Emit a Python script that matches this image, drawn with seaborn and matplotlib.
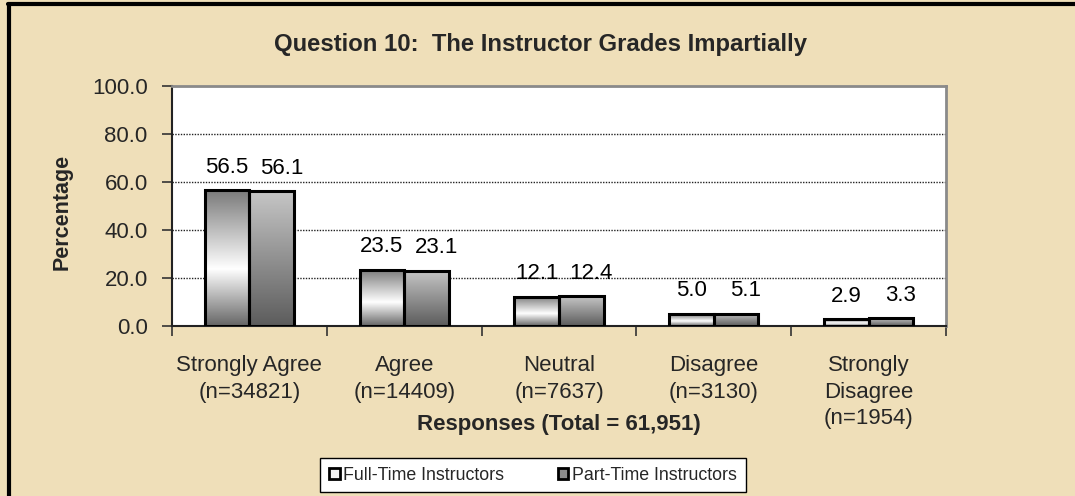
import numpy as np
import pandas as pd
import matplotlib
matplotlib.use("Agg")
import matplotlib.pyplot as plt
from matplotlib.colors import LinearSegmentedColormap
from matplotlib.patches import Patch
from matplotlib.lines import Line2D
import seaborn as sns

categories = ["Strongly Agree\n(n=34821)", "Agree\n(n=14409)", "Neutral\n(n=7637)",
              "Disagree\n(n=3130)", "Strongly\nDisagree\n(n=1954)"]
series = ["Full-Time Instructors", "Part-Time Instructors"]
full_time = [56.5, 23.5, 12.1, 5.0, 2.9]
part_time = [56.1, 23.1, 12.4, 5.1, 3.3]
yticks = [0, 20, 40, 60, 80, 100]

title = "Question 10:  The Instructor Grades Impartially"
xlabel = "Responses (Total = 61,951)"
ylabel = "Percentage"

df = pd.DataFrame({
    "cat": categories * 2,
    "pct": full_time + part_time,
    "group": [series[0]] * len(categories) + [series[1]] * len(categories),
})

sns.set_style("white")
plt.rcParams["font.family"] = ["Liberation Sans", "DejaVu Sans"]

BG = "#EFDFB9"
fig = plt.figure(figsize=(10.75, 4.96), dpi=100, facecolor=BG)
ax = fig.add_axes([172 / 1075, 1 - 326 / 496, (946 - 172) / 1075, (326 - 86) / 496])
ax.set_facecolor("white")

sns.barplot(data=df, x="cat", y="pct", hue="group", order=categories, hue_order=series,
            palette=["#dddddd", "#909090"], width=0.575, edgecolor="black", linewidth=2.2,
            ax=ax, legend=False, zorder=3)

cmap_ft = LinearSegmentedColormap.from_list("ft", [(0, "#666666"), (0.42, "#ffffff"), (1, "#7a7a7a")])
cmap_pt = LinearSegmentedColormap.from_list("pt", [(0, "#5c5c5c"), (1, "#c6c6c6")])
grad = np.linspace(0, 1, 256).reshape(-1, 1)
values = [full_time, part_time]
label_dx = [0, 7]
for cont, cmap, vals, dx in zip(ax.containers, [cmap_ft, cmap_pt], values, label_dx):
    for bar, v in zip(cont.patches, vals):
        x0, y0 = bar.get_x(), bar.get_y()
        w, h = bar.get_width(), bar.get_height()
        im = ax.imshow(grad, extent=[x0, x0 + w, y0, y0 + h], origin="lower", aspect="auto",
                       cmap=cmap, zorder=3, interpolation="bilinear")
        im.set_clip_path(bar)
        bar.set_facecolor("none")
        bar.set_zorder(4)
        ax.annotate(f"{v:.1f}", (x0 + w / 2, y0 + h), xytext=(dx, 9), textcoords="offset points",
                    ha="center", va="bottom", fontsize=16, color="black", zorder=5)

ax.set_xlim(-0.5, len(categories) - 0.5)
ax.set_ylim(0, 100)
ax.set_yticks(yticks)
ax.set_yticklabels([f"{t:.1f}" for t in yticks], fontsize=16)
ax.set_xticks(range(len(categories)))
ax.set_xticklabels(categories, fontsize=16, linespacing=1.35)
ax.set_xticks(np.arange(-0.5, len(categories)), minor=True)
ax.tick_params(axis="x", which="major", length=0, pad=21)
ax.tick_params(axis="x", which="minor", length=7, width=1.2, color="#333333", direction="out", bottom=True)
ax.tick_params(axis="y", which="major", length=7, width=1.2, color="#333333", direction="out", left=True, pad=10.5)

for t in yticks[1:-1]:
    ax.axhline(t, color="#222222", lw=1, ls=(0, (1, 1)), zorder=1)

for s in ["left", "bottom"]:
    ax.spines[s].set_color("#222222")
    ax.spines[s].set_linewidth(1.5)
for s in ["top", "right"]:
    ax.spines[s].set_visible(True)
    ax.spines[s].set_color("#8a8a8a")
    ax.spines[s].set_linewidth(2)

ax.set_xlabel(xlabel, fontsize=16, fontweight="bold")
ax.xaxis.set_label_coords(0.5, -0.41)
ax.xaxis.label.set_va("center")
ax.set_ylabel(ylabel, fontsize=15.5, fontweight="bold")
ax.yaxis.set_label_coords((62 - 172) / 774, 0.475)
ax.yaxis.label.set_va("center")

fig.text(541 / 1075, 1 - 44 / 496, title, ha="center", va="center", fontsize=17.2, fontweight="bold")

handles = [Patch(facecolor="#f0f0f0", edgecolor="black", linewidth=2),
           Patch(facecolor="#8c8c8c", edgecolor="black", linewidth=2)]
leg = fig.legend(handles, series, loc="center", bbox_to_anchor=(533 / 1075, 1 - 475 / 496),
                 ncol=2, fontsize=12.8, frameon=True, fancybox=False, framealpha=1,
                 edgecolor="black", handlelength=0.6, handleheight=0.6, handletextpad=0.2,
                 columnspacing=3.0, borderpad=0.5)
leg.get_frame().set_linewidth(1)

fig.add_artist(Line2D([9 / 1075, 9 / 1075], [0, 1 - 4 / 496], color="black", lw=3))
fig.add_artist(Line2D([8 / 1075, 1], [1 - 4 / 496, 1 - 4 / 496], color="black", lw=3))

fig.savefig("out.png", dpi=100, facecolor=BG)
